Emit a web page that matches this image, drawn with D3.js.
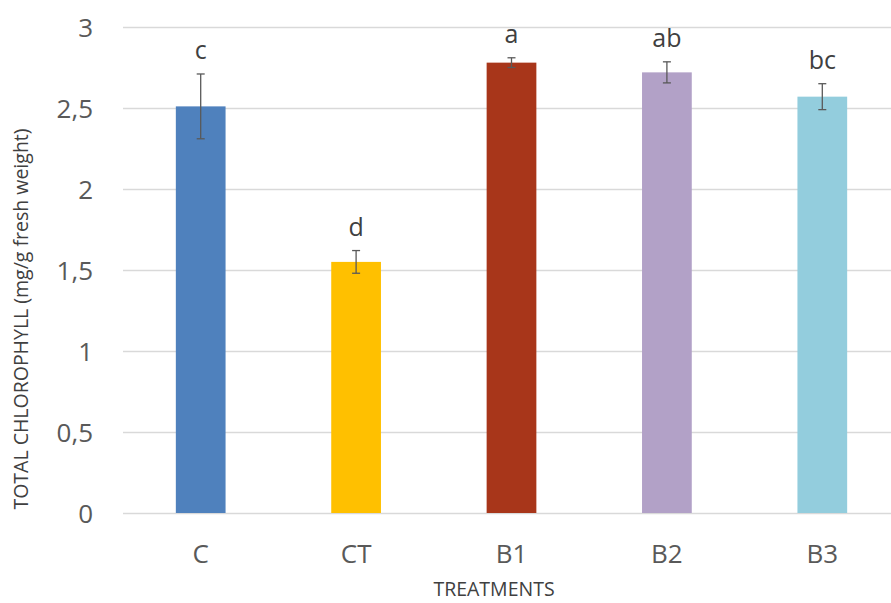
<!DOCTYPE html>
<html>
<head>
<meta charset="utf-8">
<script src="https://cdn.jsdelivr.net/npm/d3@7"></script>
<style>
  html, body { margin: 0; padding: 0; background: #fff; }
  svg { display: block; font-family: "Open Sans", "Noto Sans", sans-serif; }
</style>
</head>
<body>
<svg id="chart" width="891" height="603"></svg>
<script>
// Treatments and their total chlorophyll means (mg/g fresh weight)
const treatments = ["C", "CT", "B1", "B2", "B3"];
const means = [2.51, 1.55, 2.78, 2.72, 2.57];
const errors = [0.20, 0.07, 0.03, 0.065, 0.08];
const letters = ["c", "d", "a", "ab", "bc"];
const colors = ["#4F81BD", "#FFC000", "#A8361A", "#B2A1C7", "#93CDDD"];
const yTicks = [0, 0.5, 1, 1.5, 2, 2.5, 3];

const svg = d3.select("#chart");
const margin = { left: 123, right: -9, top: 27, bottom: 90 };
const W = 891, H = 603;

const x = d3.scaleBand()
  .domain(treatments)
  .range([margin.left, W - margin.right])
  .padding(0);

const y = d3.scaleLinear()
  .domain([0, 3])
  .range([H - margin.bottom, margin.top]);

const barW = x.bandwidth() * 0.32;
const fmt = d => String(d).replace(".", ",");

// horizontal gridlines
svg.append("g")
  .selectAll("line")
  .data(yTicks)
  .join("line")
  .attr("x1", margin.left)
  .attr("x2", W)
  .attr("y1", d => Math.round(y(d)) + 0.5)
  .attr("y2", d => Math.round(y(d)) + 0.5)
  .attr("stroke", "#d9d9d9")
  .attr("stroke-width", 1.3);

// y axis labels
const yAxis = d3.axisLeft(y).tickValues(yTicks).tickFormat(fmt).tickSize(0).tickPadding(0);
const gy = svg.append("g")
  .attr("transform", `translate(${margin.left - 30},0)`)
  .call(yAxis);
gy.select(".domain").remove();
gy.selectAll("text")
  .attr("fill", "#595959")
  .attr("font-size", 26)
  .attr("dy", "0.35em")
  .style("font-family", "'Open Sans', sans-serif");

// bars
const data = treatments.map((t, i) => ({ t, v: means[i], e: errors[i], l: letters[i], c: colors[i] }));

svg.append("g")
  .selectAll("rect")
  .data(data)
  .join("rect")
  .attr("x", d => x(d.t) + (x.bandwidth() - barW) / 2)
  .attr("width", barW)
  .attr("y", d => y(d.v))
  .attr("height", d => y(0) - y(d.v))
  .attr("fill", d => d.c);

// error bars
const eb = svg.append("g")
  .attr("stroke", "#595959")
  .attr("stroke-width", 1.3);
data.forEach(d => {
  const cx = x(d.t) + x.bandwidth() / 2;
  eb.append("line").attr("x1", cx).attr("x2", cx).attr("y1", y(d.v + d.e)).attr("y2", y(d.v - d.e));
  eb.append("line").attr("x1", cx - 4).attr("x2", cx + 4).attr("y1", y(d.v + d.e)).attr("y2", y(d.v + d.e));
  eb.append("line").attr("x1", cx - 4).attr("x2", cx + 4).attr("y1", y(d.v - d.e)).attr("y2", y(d.v - d.e));
});

// significance letters
svg.append("g")
  .selectAll("text")
  .data(data)
  .join("text")
  .attr("x", d => x(d.t) + x.bandwidth() / 2)
  .attr("y", d => y(d.v + d.e) - 15)
  .attr("text-anchor", "middle")
  .attr("font-size", 25)
  .attr("fill", "#404040")
  .text(d => d.l);

// category labels
const xAxis = d3.axisBottom(x).tickSize(0).tickPadding(0);
const gx = svg.append("g")
  .attr("transform", `translate(0,${y(0) + 50})`)
  .call(xAxis);
gx.select(".domain").remove();
gx.selectAll("text")
  .attr("fill", "#595959")
  .attr("font-size", 26)
  .attr("dy", 0)
  .style("font-family", "'Open Sans', sans-serif");

// axis titles
svg.append("text")
  .attr("x", 494)
  .attr("y", 596)
  .attr("text-anchor", "middle")
  .attr("font-size", 19.5)
  .attr("fill", "#404040")
  .text("TREATMENTS");

svg.append("text")
  .attr("transform", "translate(28,319) rotate(-90)")
  .attr("text-anchor", "middle")
  .attr("font-size", 19.5)
  .attr("fill", "#404040")
  .text("TOTAL CHLOROPHYLL (mg/g fresh weight)");
</script>
</body>
</html>
